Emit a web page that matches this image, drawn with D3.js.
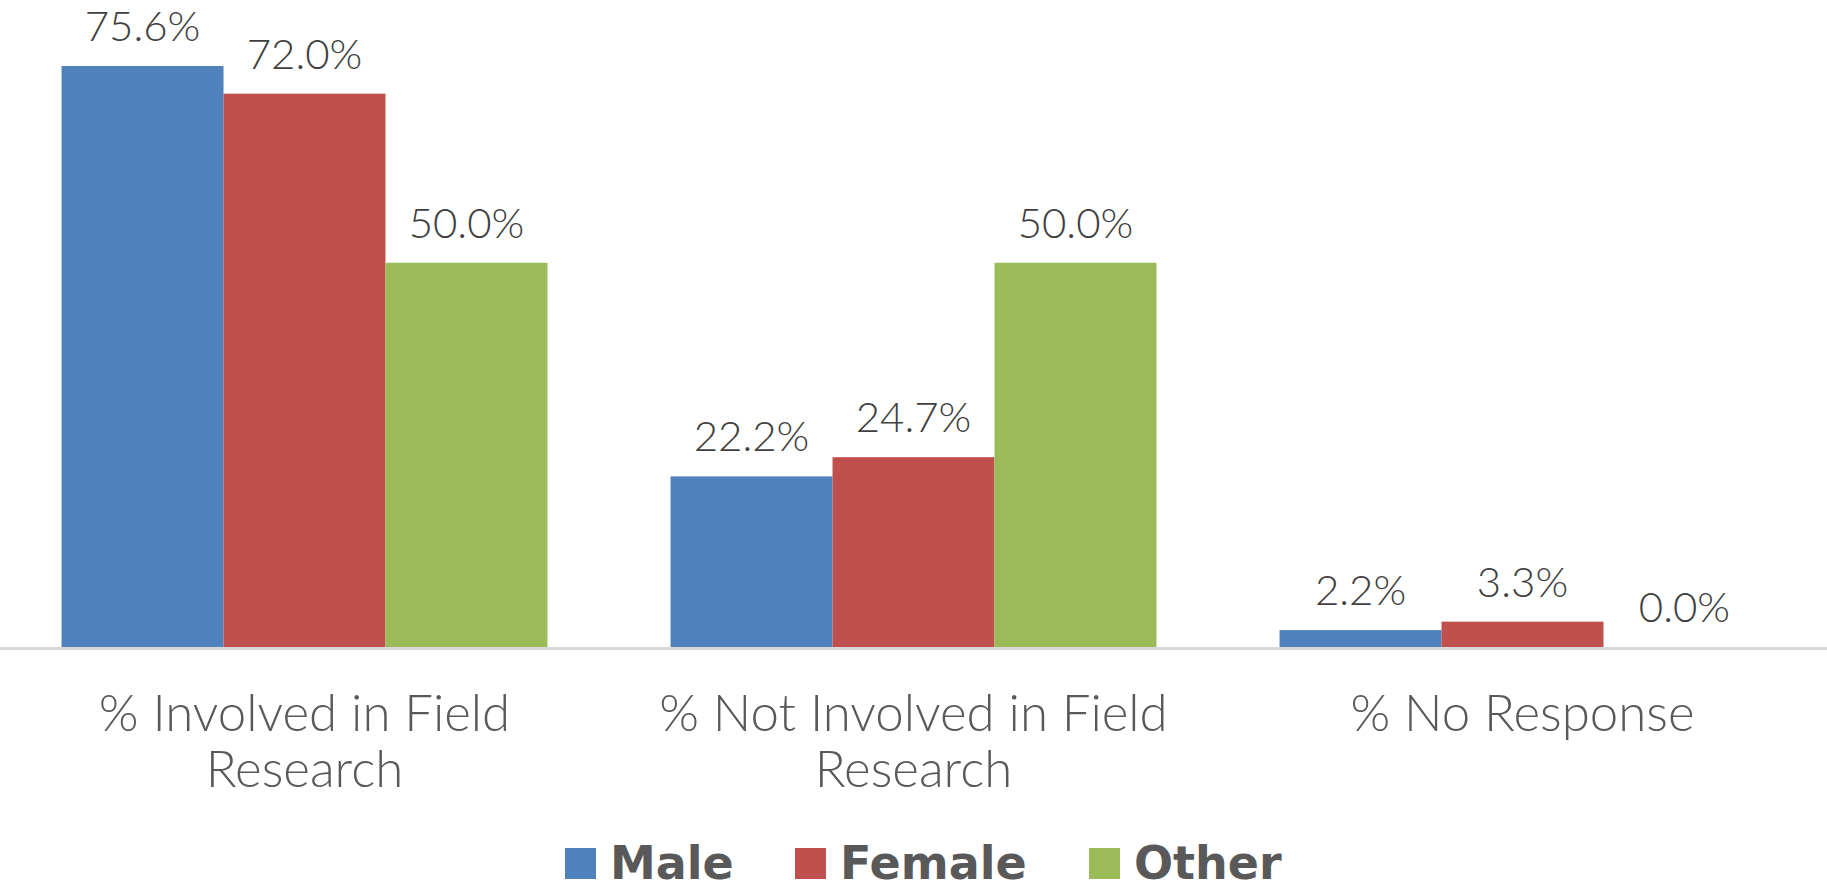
<!DOCTYPE html>
<html>
<head>
<meta charset="utf-8">
<script src="https://cdn.jsdelivr.net/npm/d3@7"></script>
<style>
    body { margin: 0; background: #fff; }
    svg { display: block; }
</style>
</head>
<body>
<div id="chart"></div>
<script>
const categories = [['% Involved in Field', 'Research'], ['% Not Involved in Field', 'Research'], ['% No Response']];
const seriesNames = ['Male', 'Female', 'Other'];
const male = [75.6, 22.2, 2.2];
const female = [72.0, 24.7, 3.3];
const other = [50.0, 50.0, 0.0];
const colors = ['#4f81bd', '#c0504d', '#9bbb59'];

const width = 1827, height = 890;
const axisY = 647;
const series = [male, female, other];

const svg = d3.select('#chart').append('svg')
    .attr('width', width)
    .attr('height', height);

const x0 = d3.scaleBand()
    .domain(d3.range(categories.length))
    .range([0, width]);

const x1 = d3.scaleBand()
    .domain(d3.range(seriesNames.length))
    .range([0, x0.bandwidth()])
    .paddingOuter(0.38);

const y = d3.scaleLinear()
    .domain([0, 80])
    .range([axisY, axisY - 80 * 7.685]);

const groups = svg.selectAll('g.group')
    .data(categories)
    .join('g')
    .attr('class', 'group')
    .attr('transform', (d, i) => `translate(${x0(i)},0)`);

groups.selectAll('rect')
    .data((d, i) => series.map((s, j) => ({ j, v: s[i] })))
    .join('rect')
    .attr('x', d => x1(d.j))
    .attr('width', x1.bandwidth())
    .attr('y', d => y(d.v))
    .attr('height', d => axisY - y(d.v))
    .attr('fill', d => colors[d.j]);

groups.selectAll('text.value')
    .data((d, i) => series.map((s, j) => ({ j, v: s[i] })))
    .join('text')
    .attr('class', 'value')
    .attr('x', d => x1(d.j) + x1.bandwidth() / 2)
    .attr('y', d => y(d.v) - 25)
    .attr('text-anchor', 'middle')
    .attr('font-family', 'Lato, sans-serif')
    .attr('font-weight', 300)
    .attr('font-size', 42)
    .attr('fill', '#404040')
    .text(d => d.v.toFixed(1) + '%');

// axis line
svg.append('line')
    .attr('x1', 0).attr('x2', width)
    .attr('y1', axisY + 1.5).attr('y2', axisY + 1.5)
    .attr('stroke', '#d9d9d9')
    .attr('stroke-width', 3);

// category labels
groups.append('text')
    .attr('text-anchor', 'middle')
    .attr('font-family', 'Lato, sans-serif')
    .attr('font-weight', 300)
    .attr('font-size', 51)
    .attr('fill', '#595959')
    .selectAll('tspan')
    .data(d => d)
    .join('tspan')
    .attr('x', x0.bandwidth() / 2)
    .attr('y', (d, i) => 731 + i * 56)
    .text(d => d);

// legend
const legendX = [565, 795, 1089];
const legend = svg.selectAll('g.legend')
    .data(seriesNames)
    .join('g')
    .attr('class', 'legend')
    .attr('transform', (d, i) => `translate(${legendX[i]},848)`);

legend.append('rect')
    .attr('width', 31)
    .attr('height', 31)
    .attr('fill', (d, i) => colors[i]);

legend.append('text')
    .attr('x', 45)
    .attr('y', 31)
    .attr('font-family', '"DejaVu Sans", sans-serif')
    .attr('font-weight', 700)
    .attr('font-size', 46)
    .attr('fill', '#595959')
    .text(d => d);
</script>
</body>
</html>
